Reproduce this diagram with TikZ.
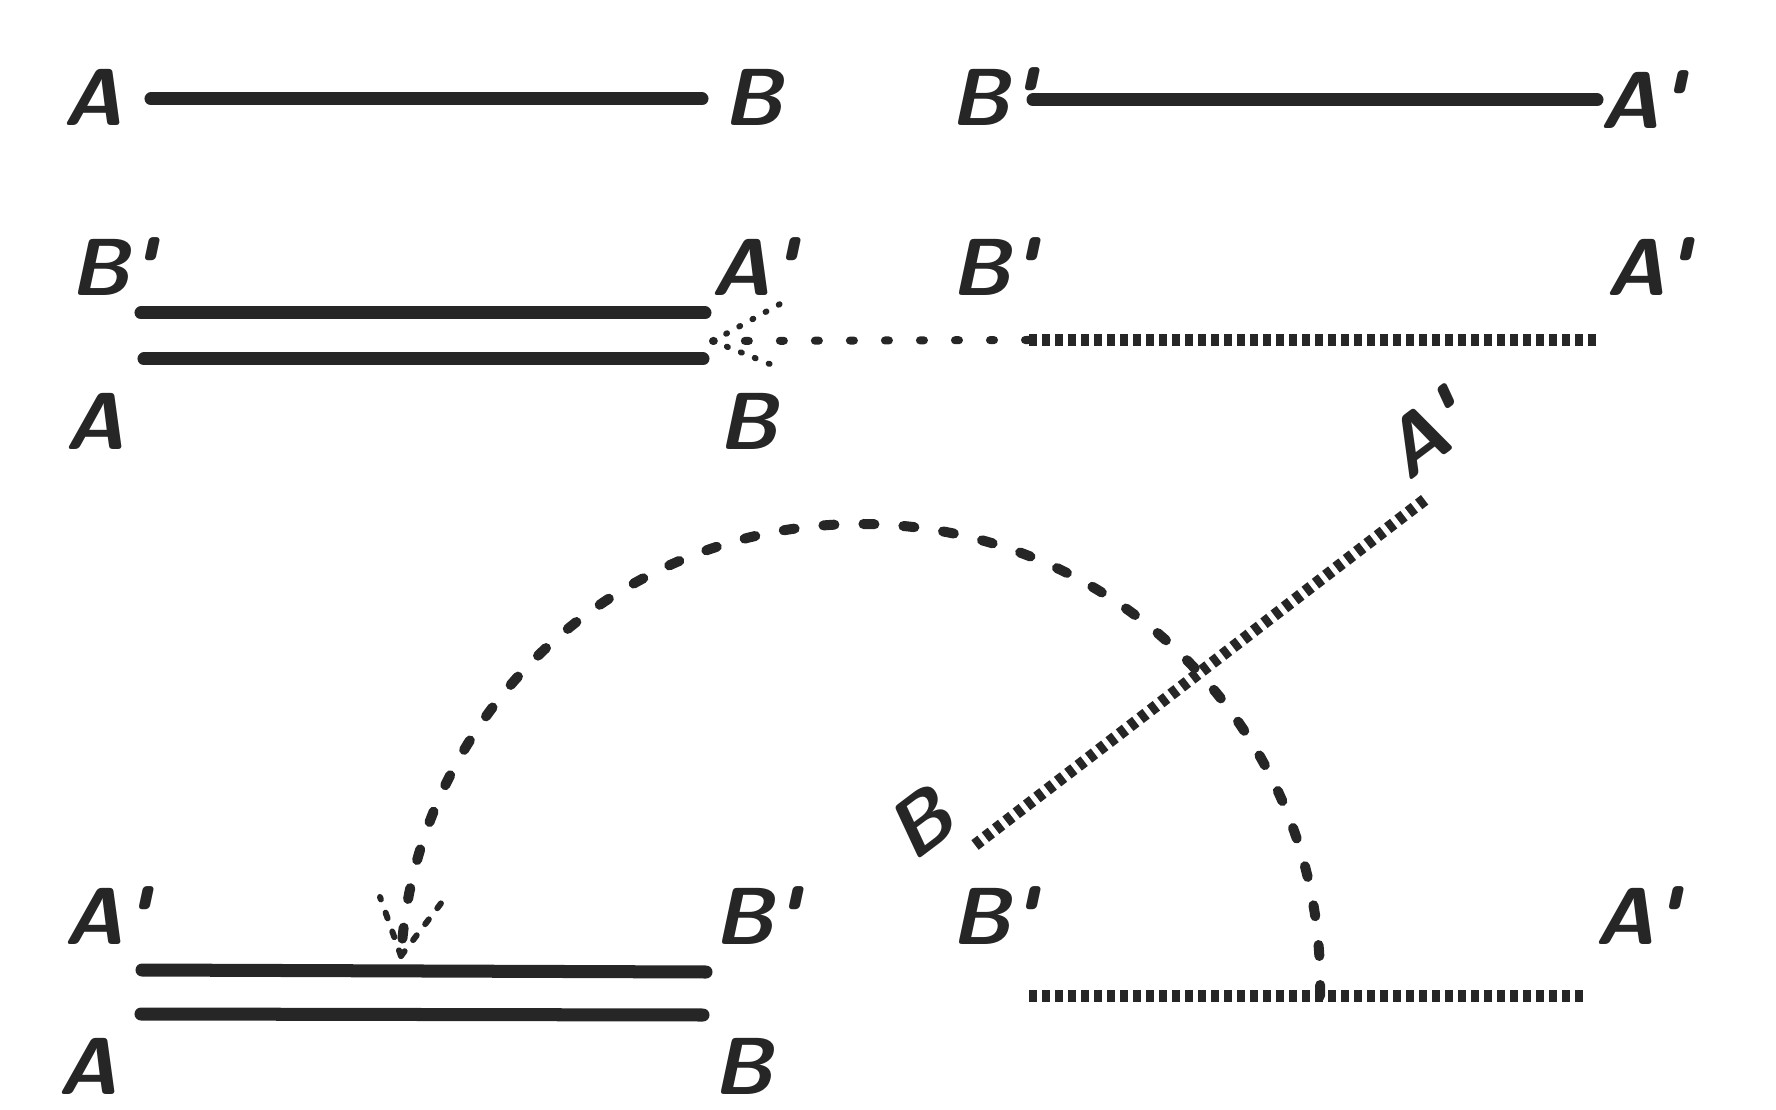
\documentclass[tikz,border=0pt]{standalone}
\usepackage{fontspec}

\newcommand{\pr}{\textquotesingle}

\begin{document}
\begin{tikzpicture}[x=0.01cm, y=0.01cm, black!85,
	lbl/.style={font=\fontsize{23}{26}\selectfont\sffamily\bfseries\slshape, inner sep=0pt},
	bar/.style={line width=1.3mm, line cap=round},
	ticks/.style={line width=1.2mm, dash pattern=on 0.75mm off 0.55mm},
	dots/.style={line width=0.8mm, line cap=round, dash pattern=on 0.4mm off 3.1mm},
	dashes/.style={line width=1mm, line cap=round, dash pattern=on 1.1mm off 2.9mm},
	wingdots/.style={line width=0.6mm, line cap=round, dash pattern=on 0.1mm off 1.4mm},
	wingdash/.style={line width=0.6mm, line cap=round, dash pattern=on 0.6mm off 1.4mm}]
	\useasboundingbox (0, 0) rectangle (1776, -1110);
	
	% top row
	\node[lbl] (a1) at (93, -97) {A};
	\node[lbl] (b1) at (753, -97) {B};
	\coordinate (a1e) at (151, -99);
	\coordinate (b1e) at (702, -99);
	\draw[bar] (a1e) -- (b1e);
	
	\node[lbl] (b2) at (993, -97) {B\pr};
	\node[lbl] (a2) at (1642, -100) {A\pr};
	\coordinate (b2e) at (1033, -100);
	\coordinate (a2e) at (1597, -100);
	\draw[bar] (b2e) -- (a2e);
	
	% second row, left
	\node[lbl] (b3) at (113, -267) {B\pr};
	\node[lbl] (a3) at (754, -267) {A\pr};
	\node[lbl] (a4) at (95, -421) {A};
	\node[lbl] (b4) at (748, -421) {B};
	\coordinate (b3e) at (141, -313);
	\coordinate (a3e) at (705, -313);
	\coordinate (a4e) at (144, -359);
	\coordinate (b4e) at (703, -359);
	\draw[bar] (b3e) -- (a3e);
	\draw[bar] (a4e) -- (b4e);
	
	% second row, right
	\node[lbl] (b5) at (994, -267) {B\pr};
	\node[lbl] (a5) at (1648, -267) {A\pr};
	\coordinate (b5e) at (1029, -340);
	\coordinate (a5e) at (1597, -340);
	\draw[ticks] (b5e) -- (a5e);
	
	\coordinate (tip1) at (713, -341);
	\draw[dots] (b5e) -- (tip1);
	\draw[wingdots] (tip1) -- (780, -304);
	\draw[wingdots] (tip1) -- (777, -367);
	
	% turned segment
	\node[lbl, rotate=37] (b6) at (920, -823) {B};
	\node[lbl, rotate=37] (a6) at (1425, -434) {A\pr};
	\coordinate (b6e) at (975, -845);
	\coordinate (a6e) at (1427, -498);
	\draw[ticks] (b6e) -- (a6e);
	
	% bottom row, left
	\node[lbl] (a7) at (107, -916) {A\pr};
	\node[lbl] (b7) at (757, -916) {B\pr};
	\node[lbl] (a8) at (88, -1066) {A};
	\node[lbl] (b8) at (743, -1066) {B};
	\coordinate (a7e) at (142, -970);
	\coordinate (b7e) at (706, -972);
	\coordinate (a8e) at (141, -1014);
	\coordinate (b8e) at (703, -1015);
	\draw[bar] (a7e) -- (b7e);
	\draw[bar] (a8e) -- (b8e);
	
	% bottom row, right
	\node[lbl] (b9) at (994, -916) {B\pr};
	\node[lbl] (a9) at (1637, -916) {A\pr};
	\coordinate (b9e) at (1029, -996);
	\coordinate (a9e) at (1586, -996);
	\draw[ticks] (b9e) -- (a9e);
	
	% the half turn
	\coordinate (arcs) at (1320, -996);
	\coordinate (tip2) at (401, -956);
	\draw[dashes] (arcs) arc[start angle = -1.5, end angle = 176.5, radius = 460];
	\draw[wingdash] (tip2) -- (380, -897);
	\draw[wingdash] (tip2) -- (442, -902);
\end{tikzpicture}
\end{document}
